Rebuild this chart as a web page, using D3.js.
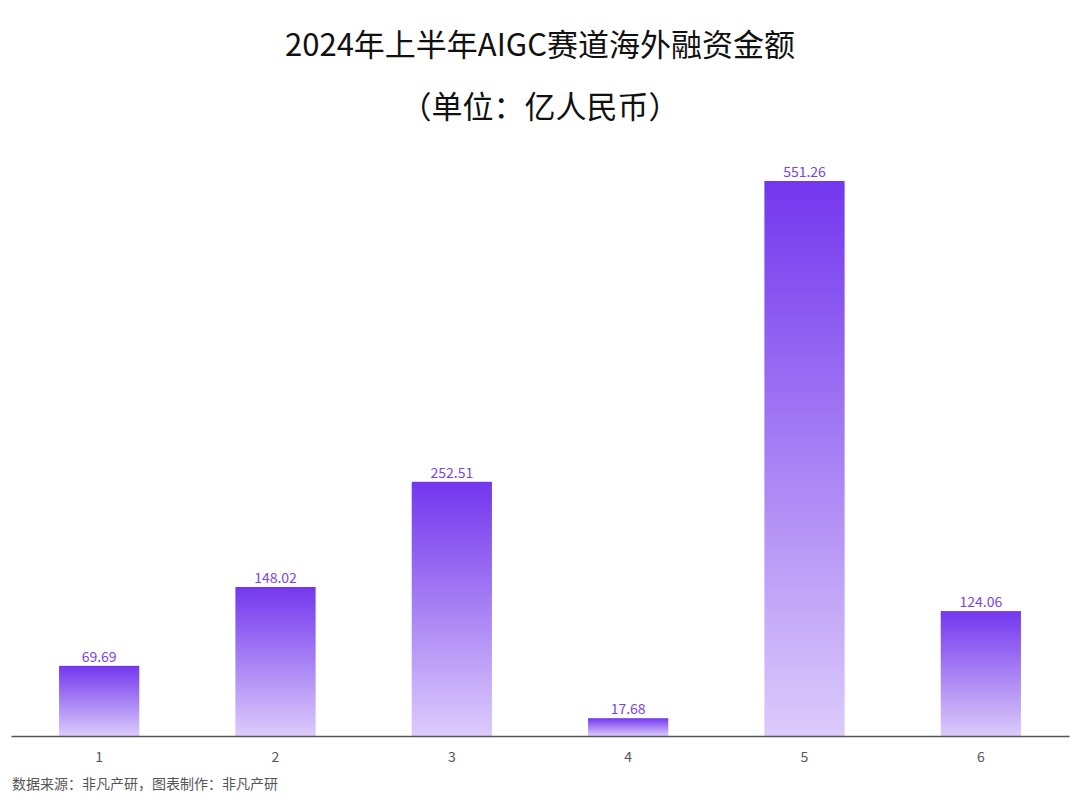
<!DOCTYPE html>
<html><head><meta charset="utf-8">
<script src="https://cdn.jsdelivr.net/npm/d3@7"></script>
<style>body{margin:0;background:#fff}svg{display:block}</style>
</head><body>
<script>
const categories = ["1","2","3","4","5","6"];
const values = [69.69,148.02,252.51,17.68,551.26,124.06];
const titleLines = ["2024年上半年AIGC赛道海外融资金额","（单位：亿人民币）"];
const sourceText = "数据来源：非凡产研，图表制作：非凡产研";

const W=1080,H=807;
const svg=d3.select("body").append("svg").attr("width",W).attr("height",H);
const font="'Noto Sans CJK SC','Noto Sans',sans-serif";
const defs=svg.append("defs");
const g=defs.append("linearGradient").attr("id","grad").attr("x1",0).attr("y1",0).attr("x2",0).attr("y2",1);
g.append("stop").attr("offset","0%").attr("stop-color","#7337ee");
g.append("stop").attr("offset","100%").attr("stop-color","#dccbfb");

const x=d3.scaleBand().domain(categories).range([11,1069]).paddingInner(0.545).paddingOuter(0.2725);
const y=d3.scaleLinear().domain([0,551.26]).range([736,181]);

svg.selectAll("text.title").data(titleLines).join("text").attr("class","title")
 .attr("x",540).attr("y",(d,i)=>56+i*62).attr("text-anchor","middle")
 .attr("font-family",font).attr("font-size",31).attr("fill","#111").text(d=>d);

svg.selectAll("rect.bar").data(values).join("rect").attr("class","bar")
 .attr("x",(d,i)=>x(categories[i])).attr("width",x.bandwidth())
 .attr("y",d=>y(d)).attr("height",d=>y(0)-y(d)).attr("fill","url(#grad)");

svg.selectAll("text.lab").data(values).join("text").attr("class","lab")
 .attr("x",(d,i)=>x(categories[i])+x.bandwidth()/2).attr("y",d=>y(d)-4)
 .attr("text-anchor","middle").attr("font-family",font).attr("font-size",14)
 .attr("fill","#7a45e8").text(d=>d.toFixed(2));

const ax=svg.append("g").attr("transform","translate(0,736)")
 .call(d3.axisBottom(x).tickSize(0).tickPadding(16));
ax.select(".domain").attr("stroke","#555").attr("stroke-width",1.5);
ax.selectAll("text").attr("font-family",font).attr("font-size",14).attr("fill","#555");

svg.append("text").attr("x",12).attr("y",789).attr("font-family",font).attr("font-size",14)
 .attr("fill","#555").text(sourceText);
</script>
</body></html>
